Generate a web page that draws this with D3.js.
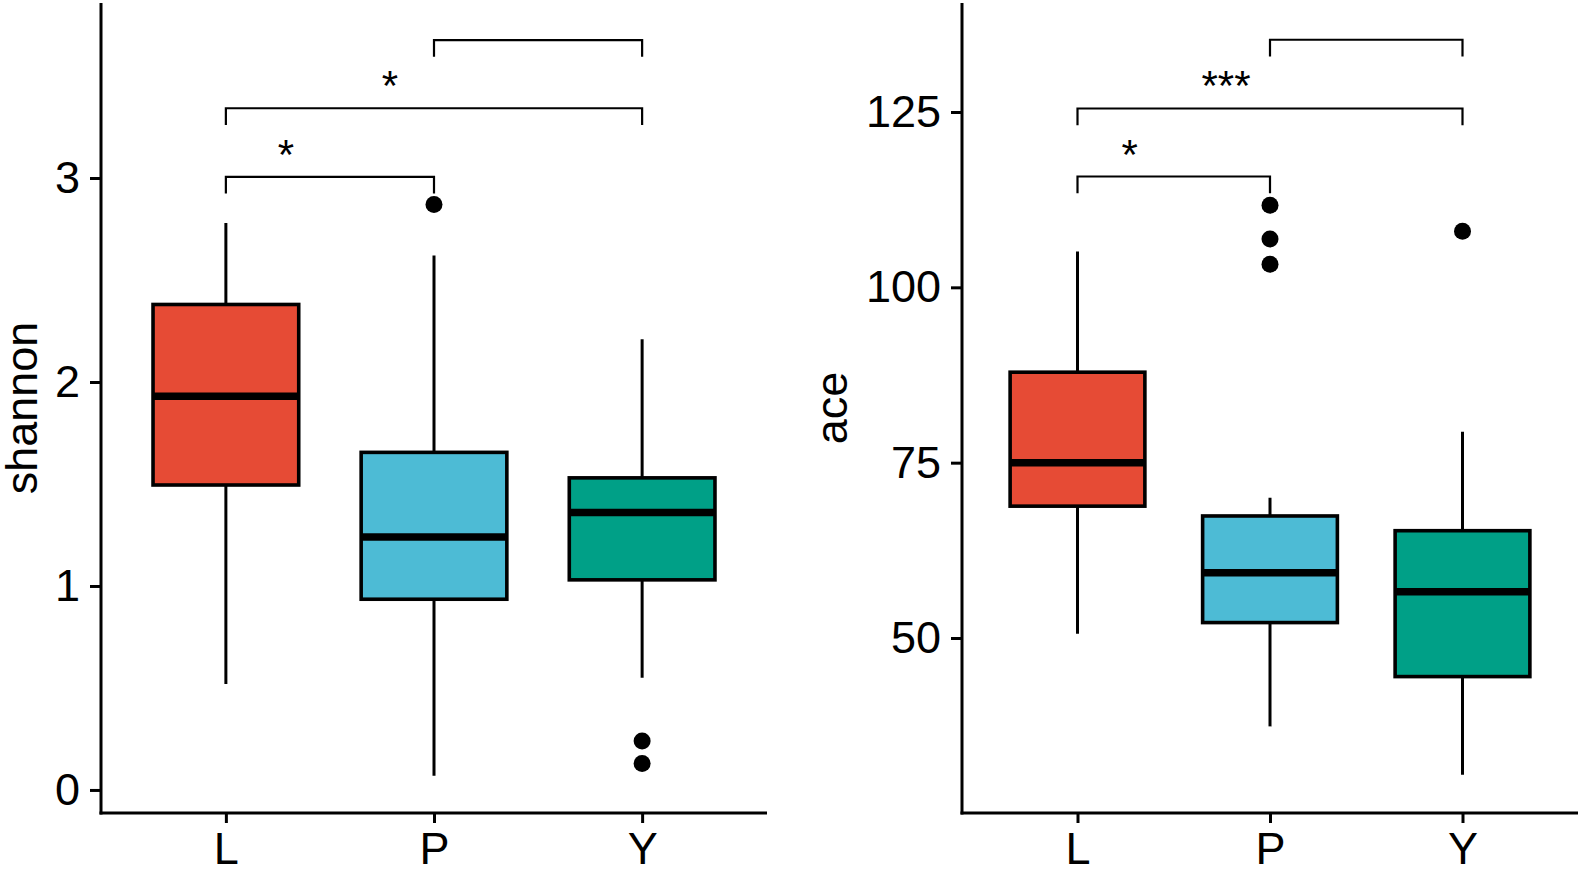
<!DOCTYPE html>
<html>
<head>
<meta charset="utf-8">
<script src="https://cdn.jsdelivr.net/npm/d3@7"></script>
<style>
body { margin: 0; background: #fff; }
svg { display: block; background: #fff; font-family: "Liberation Sans", Arial, sans-serif; }
</style>
</head>
<body>
<svg id="chart" width="1581" height="869"></svg>
<script>
var groups = ["L", "P", "Y"];
var groupColors = ["#E64B35", "#4DBBD5", "#00A087"];
var comparisons = [["L", "P"], ["L", "Y"], ["P", "Y"]];

// shannon (left panel)
var shannonLow = [0.52, 0.07, 0.55];
var shannonQ1 = [1.495, 0.935, 1.03];
var shannonMedian = [1.93, 1.24, 1.36];
var shannonQ3 = [2.38, 1.655, 1.53];
var shannonHigh = [2.78, 2.62, 2.21];
var shannonOutliers = [[], [2.87], [0.24, 0.13]];
var shannonTicks = [0, 1, 2, 3];
var shannonBracketY = [3.006, 3.342, 3.676];
var shannonLabels = ["*", "*", ""];

// ace (right panel)
var aceLow = [50.6, 37.4, 30.5];
var aceQ1 = [68.8, 52.2, 44.5];
var aceMedian = [75.0, 59.3, 56.6];
var aceQ3 = [87.9, 67.4, 65.3];
var aceHigh = [105.1, 70.0, 79.4];
var aceOutliers = [[], [111.7, 106.9, 103.3], [108.0]];
var aceTicks = [50, 75, 100, 125];
var aceBracketY = [115.8, 125.5, 135.3];
var aceLabels = ["*", "***", ""];

var svg = d3.select("#chart");
var plotTop = 3, plotBottom = 813;

function drawPanel(opts) {
    var g = svg.append("g");

    var x = d3.scalePoint()
        .domain(groups)
        .range([opts.left, opts.right])
        .padding(0.6);

    var y = d3.scaleLinear()
        .domain(opts.domain)
        .range([plotBottom, plotTop]);

    var boxW = x.step() * 0.7;

    var data = groups.map(function (k, i) {
        return {
            key: k,
            color: groupColors[i],
            low: opts.low[i],
            q1: opts.q1[i],
            med: opts.median[i],
            q3: opts.q3[i],
            high: opts.high[i],
            out: opts.outliers[i]
        };
    });

    var box = g.selectAll("g.box")
        .data(data)
        .enter().append("g")
        .attr("class", "box");

    // whiskers
    box.append("line")
        .attr("x1", function (d) { return x(d.key); })
        .attr("x2", function (d) { return x(d.key); })
        .attr("y1", function (d) { return y(d.high); })
        .attr("y2", function (d) { return y(d.low); })
        .attr("stroke", "#000")
        .attr("stroke-width", 3);

    box.append("rect")
        .attr("x", function (d) { return x(d.key) - boxW / 2; })
        .attr("width", boxW)
        .attr("y", function (d) { return y(d.q3); })
        .attr("height", function (d) { return y(d.q1) - y(d.q3); })
        .attr("fill", function (d) { return d.color; })
        .attr("stroke", "#000")
        .attr("stroke-width", 3.6);

    box.append("line")
        .attr("x1", function (d) { return x(d.key) - boxW / 2; })
        .attr("x2", function (d) { return x(d.key) + boxW / 2; })
        .attr("y1", function (d) { return y(d.med); })
        .attr("y2", function (d) { return y(d.med); })
        .attr("stroke", "#000")
        .attr("stroke-width", 7.5);

    box.selectAll("circle")
        .data(function (d) {
            return d.out.map(function (v) { return { key: d.key, value: v }; });
        })
        .enter().append("circle")
        .attr("cx", function (d) { return x(d.key); })
        .attr("cy", function (d) { return y(d.value); })
        .attr("r", 8.5)
        .attr("fill", "#000");

    // significance brackets
    var tip = 16.7;
    comparisons.forEach(function (c, i) {
        var xa = x(c[0]), xb = x(c[1]), yb = y(opts.bracketY[i]);
        g.append("path")
            .attr("d", "M" + xa + "," + (yb + tip) + "V" + yb + "H" + xb + "V" + (yb + tip))
            .attr("fill", "none")
            .attr("stroke", "#000")
            .attr("stroke-width", 2.2);
        if (opts.labels[i]) {
            g.append("text")
                .attr("x", (xa + xb) / 2 - 44)
                .attr("y", yb - 8)
                .attr("text-anchor", "middle")
                .attr("font-size", 42)
                .attr("fill", "#000")
                .text(opts.labels[i]);
        }
    });

    // axes
    var yAxis = g.append("g")
        .attr("transform", "translate(" + opts.left + ",0)")
        .call(d3.axisLeft(y).tickValues(opts.ticks).tickFormat(d3.format("d"))
            .tickSize(11).tickSizeOuter(0).tickPadding(10));
    yAxis.select(".domain")
        .attr("d", "M0," + plotTop + "V" + (plotBottom + 1.5));

    var xAxis = g.append("g")
        .attr("transform", "translate(0," + plotBottom + ")")
        .call(d3.axisBottom(x).tickSize(10).tickSizeOuter(0).tickPadding(9));
    xAxis.select(".domain")
        .attr("d", "M" + (opts.left - 1.5) + ",0H" + opts.right);

    [yAxis, xAxis].forEach(function (a) {
        a.select(".domain").attr("stroke", "#000").attr("stroke-width", 3);
        a.selectAll(".tick line").attr("stroke", "#000").attr("stroke-width", 3);
        a.selectAll(".tick text")
            .attr("fill", "#000")
            .attr("font-size", 45)
            .attr("font-family", "'Liberation Sans', Arial, sans-serif");
    });

    g.append("text")
        .attr("transform", "translate(" + opts.titleX + "," + ((plotTop + plotBottom) / 2) + ") rotate(-90)")
        .attr("text-anchor", "middle")
        .attr("font-size", 45)
        .attr("fill", "#000")
        .text(opts.title);
}

drawPanel({
    left: 101, right: 767,
    domain: [-0.113, 3.858],
    ticks: shannonTicks,
    low: shannonLow, q1: shannonQ1, median: shannonMedian, q3: shannonQ3, high: shannonHigh,
    outliers: shannonOutliers,
    bracketY: shannonBracketY, labels: shannonLabels,
    title: "shannon", titleX: 37
});

drawPanel({
    left: 962, right: 1578,
    domain: [25.05, 140.54],
    ticks: aceTicks,
    low: aceLow, q1: aceQ1, median: aceMedian, q3: aceQ3, high: aceHigh,
    outliers: aceOutliers,
    bracketY: aceBracketY, labels: aceLabels,
    title: "ace", titleX: 847
});
</script>
</body>
</html>
